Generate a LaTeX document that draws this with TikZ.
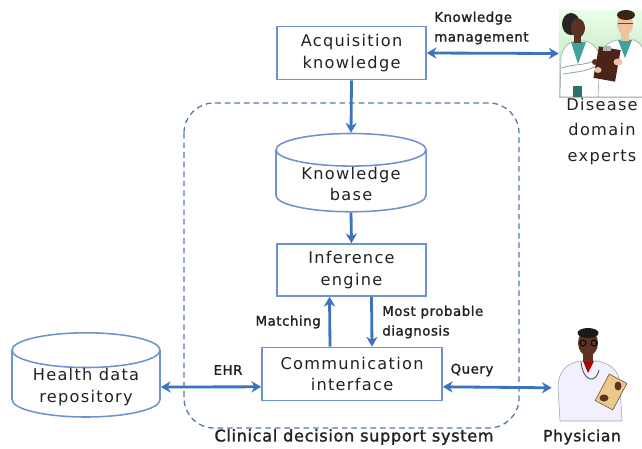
\documentclass[tikz,border=0pt]{standalone}
\usepackage{fontspec}
\setmainfont{DejaVu Sans}
\newfontfamily\boxfont{DejaVu Sans}[LetterSpace=8]
\newfontfamily\tagfont{DejaVu Sans}[FakeBold=1.5, LetterSpace=4]
\usetikzlibrary{arrows.meta, shapes.geometric, positioning, calc}

\definecolor{boxblue}{HTML}{6C93CF}
\definecolor{linkblue}{HTML}{3B73BE}
\definecolor{dashblue}{HTML}{5578A8}
\definecolor{textgray}{HTML}{222222}
\definecolor{coatgray}{HTML}{9AA4AE}
\definecolor{scrubs}{HTML}{3FA39A}
\definecolor{darkskin}{HTML}{5C3322}
\definecolor{lightskin}{HTML}{EEC4A0}
\definecolor{board}{HTML}{4A2418}
\definecolor{paper}{HTML}{E9C98C}

\tikzset{
  box/.style={draw=boxblue, line width=1.1pt, fill=white, minimum width=3.72cm,
    minimum height=1.33cm, align=center, text=textgray,
    font=\boxfont\fontsize{11.5}{15.5}\selectfont},
  store/.style={cylinder, shape border rotate=90, aspect=0.3, inner ysep=0pt,
    draw=boxblue, line width=1.1pt, fill=white, align=center, text=textgray,
    font=\boxfont\fontsize{11.5}{15.5}\selectfont},
  link/.style={draw=linkblue, line width=2pt, -{Stealth[length=7pt, width=8pt]}},
  both/.style={draw=linkblue, line width=2pt,
    {Stealth[length=7pt, width=8pt]}-{Stealth[length=7pt, width=8pt]}},
  tag/.style={text=textgray, align=left, inner sep=0pt,
    font=\tagfont\fontsize{9.5}{14}\selectfont},
  caption/.style={text=textgray, align=center, inner sep=0pt,
    font=\boxfont\fontsize{11.5}{18}\selectfont},
}

\begin{document}
\begin{tikzpicture}[x=0.025cm, y=-0.025cm]
  \useasboundingbox (0,0) rectangle (642,448);

  % system boundary
  \draw[dashblue, line width=0.9pt, dash pattern=on 4pt off 2.8pt,
    rounded corners=0.75cm] (184,103) rectangle (519,428);

  % blocks
  \node[box] (acq) at (351.5,53) {Acquisition\\knowledge};
  \node[store, minimum width=3.75cm] (kb) at (351,184) {Knowledge\\base};
  \node[box, minimum height=1.3cm] (inf) at (351.5,270) {Inference\\engine};
  \node[box, minimum width=4.5cm] (comm) at (352,374) {Communication\\interface};
  \node[store, minimum width=3.7cm] (hdr) at (86,387) {Health data\\repository};

  % picture areas for the people
  \node[inner sep=0pt, minimum width=2.075cm, minimum height=2.175cm] (experts)
    at (600.5,53.5) {};
  \node[inner sep=0pt, minimum width=1.9cm, minimum height=2.35cm] (phys)
    at (590,375) {};

  % connectors
  \draw[link] (acq.south) -- (kb.top);
  \draw[link] (kb.bottom) -- (inf.north);
  \draw[link] ($(comm.north)+(-22,0)$) -- ($(inf.south)+(-22,0)$);
  \draw[link] ($(inf.south)+(20,0)$) -- ($(comm.north)+(20,0)$);
  \draw[both] (acq.east) -- (experts.west);
  \draw[both] (hdr.east) -- ([yshift=-0.32cm]comm.west);
  \draw[both] ([yshift=-0.32cm]comm.east) -- ([yshift=-0.32cm]phys.west);

  % connector labels
  \node[tag, anchor=west] (km) at (434,28) {Knowledge\\management};
  \node[tag, anchor=east] (match) at (321,322) {Matching};
  \node[tag, anchor=west] (diag) at (382,322) {Most probable\\diagnosis};
  \node[tag] (ehr) at (228,370) {EHR};
  \node[tag] (query) at (472,370) {Query};

  % the two experts
  \shade[top color=green!8!white, bottom color=green!35!gray!45]
    (559,10) rectangle (642,97);
  \begin{scope}
    \clip (559,10) rectangle (642,97);
    % left expert
    \fill[white, draw=coatgray, line width=0.4pt] (560,97) -- (561,56)
      .. controls (564,45) and (571,41) .. (578,41) -- (585,41)
      .. controls (594,43) and (600,51) .. (601,62) -- (602,97) -- cycle;
    \fill[scrubs] (571,42) -- (586,42) -- (578,64) -- cycle;
    \fill[scrubs!70!black] (573,86) rectangle (582,97);
    \fill[darkskin] (574,32) rectangle (581,43);
    \fill[black!85] (571,24) ellipse (9 and 11);
    \fill[darkskin] (578,28) ellipse (7 and 9.5);
    \draw[coatgray, line width=0.6pt] (562,68) .. controls (572,64) and (584,66) .. (596,60);
    \draw[coatgray, line width=0.6pt] (563,74) .. controls (574,72) and (586,72) .. (596,66);
    \fill[darkskin] (595,62) circle (3);
    % right expert
    \fill[white, draw=coatgray, line width=0.4pt] (598,97) -- (600,56)
      .. controls (603,46) and (610,41) .. (618,40) -- (634,40)
      .. controls (640,42) and (644,48) .. (644,55) -- (644,97) -- cycle;
    \fill[scrubs] (618,40) -- (632,40) -- (625,58) -- cycle;
    \fill[lightskin] (621,30) rectangle (629,41);
    \fill[lightskin] (625,24) ellipse (8 and 11);
    \fill[black!70!brown] (626,15) ellipse (9 and 5);
    \draw[black!70, line width=0.4pt] (618,23) -- (633,23);
    \fill[board, rotate around={-10:(607,64)}] (596,48) rectangle (618,80);
    \fill[gray!60] (603,46) rectangle (611,51);
    \fill[lightskin] (618,62) ellipse (4.5 and 3.5);
    \fill[lightskin] (598,70) ellipse (3.5 and 3);
  \end{scope}
  \node[caption, anchor=north] (expertsname) at (602,98)
    {Disease\\domain\\experts};

  % the physician
  \fill[blue!6!white, draw=coatgray, line width=0.4pt] (560,421) -- (558,388)
    .. controls (558,370) and (568,363) .. (580,361) -- (598,361)
    .. controls (612,364) and (620,372) .. (620,386) -- (622,421) -- cycle;
  \fill[red!70!black] (583,361) -- (594,361) -- (588,373) -- cycle;
  \fill[darkskin] (583,350) rectangle (593,362);
  \fill[darkskin] (588,343) ellipse (10 and 13);
  \fill[black!90] (588,333) ellipse (10.5 and 5);
  \draw[black, line width=0.6pt] (583,343) circle (3) (594,343) circle (3);
  \draw[black!70, line width=0.6pt] (581,362) .. controls (583,382) and (596,384) .. (599,370);
  \fill[paper, draw=brown!60!black, line width=0.4pt, rotate around={-28:(611,392)}]
    (601,377) rectangle (621,407);
  \fill[darkskin] (604,398) ellipse (4.5 and 3.5);
  \fill[darkskin] (618,386) ellipse (3.5 and 4.5);
  \node[caption, font=\tagfont\fontsize{11}{13}\selectfont] (physname) at (582,437)
    {Physician};

  % system name
  \node[caption, font=\tagfont\fontsize{11.5}{13}\selectfont] (cdss) at (354,437)
    {Clinical decision support system};
\end{tikzpicture}
\end{document}
